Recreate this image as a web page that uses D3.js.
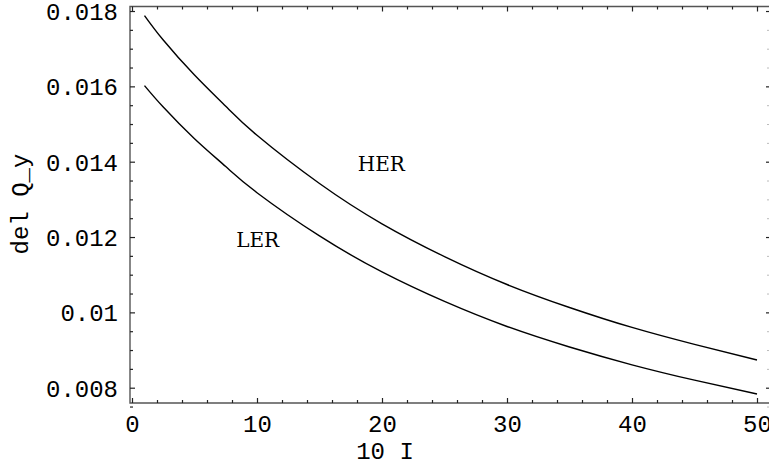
<!DOCTYPE html>
<html>
<head>
<meta charset="utf-8">
<script src="https://cdn.jsdelivr.net/npm/d3@7"></script>
<style>
  html, body { margin: 0; padding: 0; background: #fff; }
  svg { display: block; }
  text { font-family: "Liberation Mono", "DejaVu Sans Mono", monospace; fill: #000; }
</style>
</head>
<body>
<svg id="chart" width="769" height="465"></svg>
<script>
// ---- data ----
const xValues   = [1, 2.5, 5, 7.5, 10, 15, 20, 25, 30, 35, 40, 45, 50];
const herValues = [0.01788, 0.01723, 0.01630, 0.01547, 0.01470, 0.01342, 0.01235, 0.01148, 0.01074, 0.01013, 0.00960, 0.00915, 0.008735];
const lerValues = [0.01602, 0.01545, 0.01461, 0.01387, 0.013177, 0.01203, 0.011074, 0.01029, 0.009625, 0.00908, 0.008608, 0.00820, 0.007833];
const xMajorTicks = [0, 10, 20, 30, 40, 50];
const xTickLabels = ["0", "10", "20", "30", "40", "50"];
const yMajorTicks = [0.008, 0.010, 0.012, 0.014, 0.016, 0.018];
const yTickLabels = ["0.008", "0.01", "0.012", "0.014", "0.016", "0.018"];
const xMinorTicks = d3.range(0, 51, 2).filter(v => v % 10 !== 0);
const yMinorTicks = d3.range(0.0075, 0.01811, 0.0005).filter(v => Math.abs(v / 0.002 - Math.round(v / 0.002)) > 0.01);
const seriesLabels = [
  { name: "HER", x: 19.95, y: 0.01393 },
  { name: "LER", x: 10.05, y: 0.01191 }
];
const xDomain = [-0.16, 50.96];
const yDomain = [0.007594, 0.01812];

// ---- layout ----
const W = 769, H = 465;
const margin = { left: 130, right: 0, top: 6.5, bottom: 62 };
const svg = d3.select("#chart");

const x = d3.scaleLinear().domain(xDomain).range([margin.left, W - margin.right]);
const y = d3.scaleLinear().domain(yDomain).range([H - margin.bottom, margin.top]);

const frameColor = "#555";
const x0 = x.range()[0], x1 = x.range()[1];
const y0 = y.range()[0], y1 = y.range()[1];

// frame
svg.append("path")
  .attr("d", `M${x1},${y1}H${x0}V${y0}H${x1}`)
  .attr("fill", "none").attr("stroke", frameColor).attr("stroke-width", 1.4);

// bottom axis (ticks inward)
const gB = svg.append("g").attr("transform", `translate(0,${y0})`);
gB.call(d3.axisBottom(x).tickValues(xMajorTicks).tickSize(-5).tickPadding(12)
    .tickFormat((d, i) => xTickLabels[i]));
const gBm = svg.append("g").attr("transform", `translate(0,${y0})`);
gBm.call(d3.axisBottom(x).tickValues(xMinorTicks).tickSize(-3).tickFormat(""));

// top axis
const gT = svg.append("g").attr("transform", `translate(0,${y1})`);
gT.call(d3.axisTop(x).tickValues(xMajorTicks).tickSize(-5).tickFormat(""));
const gTm = svg.append("g").attr("transform", `translate(0,${y1})`);
gTm.call(d3.axisTop(x).tickValues(xMinorTicks).tickSize(-3).tickFormat(""));

// left axis
const gL = svg.append("g").attr("transform", `translate(${x0},0)`);
gL.call(d3.axisLeft(y).tickValues(yMajorTicks).tickSize(-5).tickPadding(12)
    .tickFormat((d, i) => yTickLabels[i]));
const gLm = svg.append("g").attr("transform", `translate(${x0},0)`);
gLm.call(d3.axisLeft(y).tickValues(yMinorTicks).tickSize(-3).tickFormat(""));

// right axis ticks
const gR = svg.append("g").attr("transform", `translate(${x1},0)`);
gR.call(d3.axisRight(y).tickValues(yMajorTicks).tickSize(-3).tickFormat(""));
const gRm = svg.append("g").attr("transform", `translate(${x1},0)`);
gRm.call(d3.axisRight(y).tickValues(yMinorTicks).tickSize(-2).tickFormat(""));
gRm.selectAll("line").attr("stroke", "#bbb");

svg.selectAll(".domain").remove();
svg.selectAll(".tick line").filter(function () { return !this.getAttribute("stroke") || this.getAttribute("stroke") === "currentColor"; })
  .attr("stroke", "#222").attr("stroke-width", 1.2);
svg.selectAll(".tick text").style("font-size", "24px").style("font-family", "Liberation Mono, monospace").attr("fill", "#2a2a2a");
gL.selectAll(".tick text").attr("dy", "0.35em");
gB.selectAll(".tick text").attr("dy", "0.71em");

// curves
const line = d3.line().x(d => x(d[0])).y(d => y(d[1])).curve(d3.curveNatural);
[herValues, lerValues].forEach(vals => {
  svg.append("path")
    .datum(xValues.map((xv, i) => [xv, vals[i]]))
    .attr("d", line)
    .attr("fill", "none").attr("stroke", "#000").attr("stroke-width", 1.4);
});

// series labels
seriesLabels.forEach(s => {
  svg.append("text").attr("x", x(s.x)).attr("y", y(s.y))
    .attr("text-anchor", "middle").attr("dominant-baseline", "central")
    .style("font-family", "'DejaVu Serif', 'Liberation Serif', serif")
    .style("font-size", "20px").text(s.name);
});

// axis titles
svg.append("text").attr("x", 385).attr("y", 452)
  .attr("text-anchor", "middle").attr("dominant-baseline", "central")
  .attr("fill", "#2a2a2a")
  .style("font-size", "24px").text("10 I");
svg.append("text").attr("transform", `translate(21,204) rotate(-90)`)
  .attr("text-anchor", "middle").attr("dominant-baseline", "central")
  .attr("fill", "#2a2a2a")
  .style("font-size", "24px").text("del Q_y");
</script>
</body>
</html>
